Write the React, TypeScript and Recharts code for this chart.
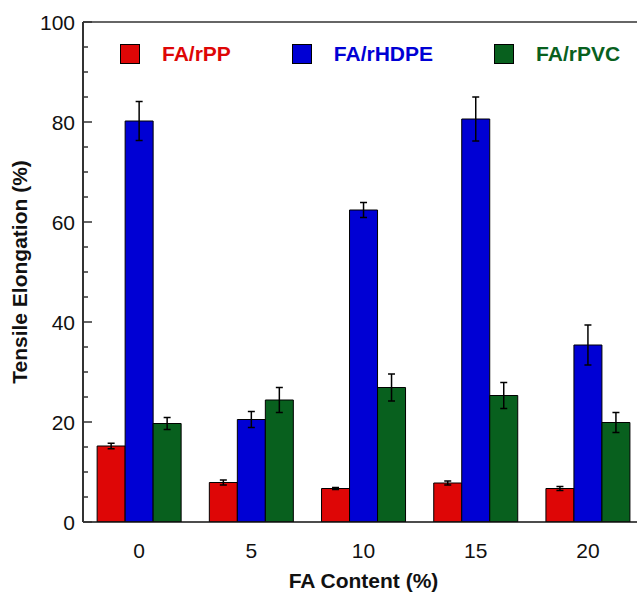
import React from 'react';
import { BarChart, Bar, XAxis, YAxis, ErrorBar, ReferenceLine } from 'recharts';

const faContent = ['0', '5', '10', '15', '20'];
const rpp = [15.2, 7.9, 6.7, 7.8, 6.7];
const rppErr = [0.55, 0.5, 0.2, 0.4, 0.4];
const rhdpe = [80.2, 20.5, 62.4, 80.6, 35.4];
const rhdpeErr = [3.9, 1.6, 1.5, 4.4, 4.0];
const rpvc = [19.7, 24.4, 26.9, 25.3, 19.9];
const rpvcErr = [1.2, 2.5, 2.7, 2.6, 2.0];

const yTicks = [0, 5, 10, 15, 20, 25, 30, 35, 40, 45, 50, 55, 60, 65, 70, 75, 80, 85, 90, 95, 100];
const yMajor = [0, 20, 40, 60, 80, 100];

const series = [
  { key: 'rpp', err: 'rppErr', name: 'FA/rPP', color: '#DE0606' },
  { key: 'rhdpe', err: 'rhdpeErr', name: 'FA/rHDPE', color: '#0000D4' },
  { key: 'rpvc', err: 'rpvcErr', name: 'FA/rPVC', color: '#08601E' },
];

const data = faContent.map((fa, i) => ({
  fa,
  rpp: rpp[i],
  rppErr: rppErr[i],
  rhdpe: rhdpe[i],
  rhdpeErr: rhdpeErr[i],
  rpvc: rpvc[i],
  rpvcErr: rpvcErr[i],
}));

const FONT = "Arial, 'Liberation Sans', sans-serif";

const LeftTick = (props: any) => {
  const { x, y, payload } = props;
  const v = payload.value;
  const major = yMajor.includes(v);
  const ax = x + 8;
  return (
    <g>
      <line x1={ax} y1={y} x2={ax + (major ? 9 : 5)} y2={y} stroke="#333" strokeWidth={1.5} />
      {major && (
        <text x={x} y={y} dy="0.36em" textAnchor="end" fontSize={21} fontFamily={FONT} fill="#111">
          {v}
        </text>
      )}
    </g>
  );
};

const RightTick = (props: any) => {
  const { x, y, payload } = props;
  const major = yMajor.includes(payload.value);
  return (
    <line x1={x - (major ? 9 : 5)} y1={y} x2={x} y2={y} stroke="#333" strokeWidth={1.5} />
  );
};

const YLabel = (props: any) => {
  const vb = props.viewBox;
  const cx = vb.x + 27;
  const cy = vb.y + vb.height / 2;
  return (
    <text
      x={cx}
      y={cy}
      transform={`rotate(-90 ${cx} ${cy})`}
      textAnchor="middle"
      fontSize={21}
      fontWeight="bold"
      fontFamily={FONT}
      fill="#111"
    >
      Tensile Elongation (%)
    </text>
  );
};

const XLabel = (props: any) => {
  const vb = props.viewBox;
  return (
    <text
      x={vb.x + vb.width / 2}
      y={vb.y + 66}
      textAnchor="middle"
      fontSize={21}
      fontWeight="bold"
      fontFamily={FONT}
      fill="#111"
    >
      FA Content (%)
    </text>
  );
};

export default function App() {
  return (
    <div style={{ position: 'absolute', left: 0, top: 0, width: 637, height: 593, overflow: 'hidden', background: '#fff' }}>
      <BarChart
        width={650}
        height={593}
        data={data}
        margin={{ top: 22, right: 6, left: 0, bottom: 0 }}
        barCategoryGap="12.6%"
        barGap={0}
      >
        <XAxis
          dataKey="fa"
          height={71}
          tickLine={false}
          tickSize={0}
          tickMargin={21}
          axisLine={{ stroke: '#111', strokeWidth: 1.5 }}
          tick={{ fontSize: 21, fontFamily: FONT, fill: '#111' }}
          label={<XLabel />}
        />
        <YAxis
          width={83}
          domain={[0, 100]}
          ticks={yTicks}
          interval={0}
          tickLine={false}
          tickSize={0}
          tickMargin={8}
          allowDataOverflow
          axisLine={{ stroke: '#333', strokeWidth: 2 }}
          tick={<LeftTick />}
          label={<YLabel />}
        />
        <YAxis
          yAxisId="r"
          orientation="right"
          width={0}
          domain={[0, 100]}
          ticks={yMajor}
          interval={0}
          tickLine={false}
          tickSize={0}
          tickMargin={0}
          axisLine={{ stroke: '#333', strokeWidth: 2 }}
          tick={<RightTick />}
        />
        <ReferenceLine y={100} stroke="#666" strokeWidth={2} ifOverflow="visible" />
        {series.map((s) => (
          <Bar
            key={s.key}
            dataKey={s.key}
            name={s.name}
            fill={s.color}
            stroke="#000"
            strokeWidth={1}
            isAnimationActive={false}
          >
            <ErrorBar dataKey={s.err} width={3.5} stroke="#000" strokeWidth={1.5} />
          </Bar>
        ))}
      </BarChart>
      <div
        style={{
          position: 'absolute',
          left: 120,
          top: 44,
          display: 'flex',
          alignItems: 'center',
          gap: 61,
          fontFamily: FONT,
          fontWeight: 'bold',
          fontSize: 21,
          lineHeight: '20px',
          whiteSpace: 'nowrap',
        }}
      >
        {series.map((s) => (
          <div key={s.key} style={{ display: 'flex', alignItems: 'center' }}>
            <div style={{ width: 18, height: 18, background: s.color, border: '1px solid #000', marginRight: 22 }} />
            <span style={{ color: s.color }}>{s.name}</span>
          </div>
        ))}
      </div>
    </div>
  );
}
